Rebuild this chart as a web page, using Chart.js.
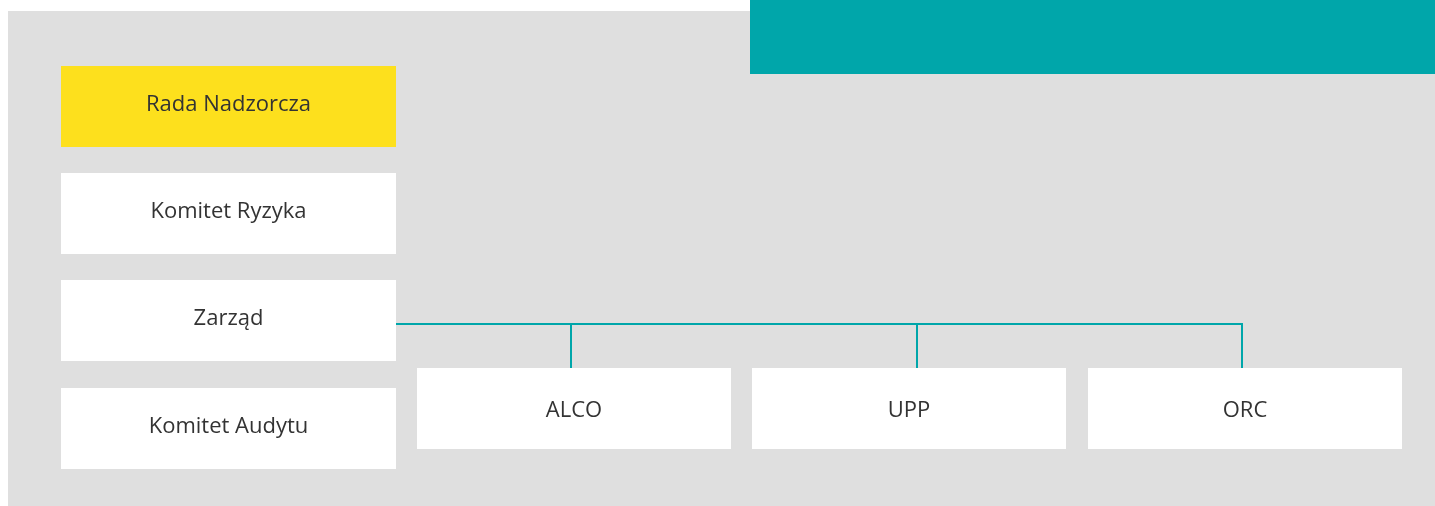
<!DOCTYPE html>
<html>
<head>
<meta charset="utf-8">
<script src="https://cdn.jsdelivr.net/npm/chart.js@4.4.0/dist/chart.umd.min.js"></script>
<style>
  html, body { margin: 0; padding: 0; background: #ffffff; }
  #wrap { width: 1435px; height: 506px; position: relative; }
</style>
</head>
<body>
<div id="wrap"><canvas id="org-chart"></canvas></div>
<script>
// --- data: nodes of the structure ---
var boardNodes = ['Rada Nadzorcza', 'Komitet Ryzyka', 'Zarząd', 'Komitet Audytu'];
var committeeNodes = ['ALCO', 'UPP', 'ORC'];
var committeeParent = 'Zarząd';
var highlightNode = 'Rada Nadzorcza';

// --- layout (page coordinates, y grows downward) ---
var leftColCenter = 228.5, leftColWidth = 335;
var rowTops = [66, 173, 280, 388], rowHeight = 81;
var committeeCenters = [574, 909, 1245], committeeWidth = 314;
var committeeTop = 368, committeeBottom = 449;
var connectorXs = [571, 917, 1242], busY = 324;

var teal = '#00a6aa', yellow = '#fde01d', panelGrey = '#dfdfdf', textColor = '#333333';

var boardBars = boardNodes.map(function (name, i) {
  return { x: leftColCenter, y: [rowTops[i], rowTops[i] + rowHeight] };
});
var committeeBars = committeeNodes.map(function (name, i) {
  return { x: committeeCenters[i], y: [committeeTop, committeeBottom] };
});

// connector: from parent box right edge along the bus, then down to each committee
var connector = [{ x: leftColCenter + leftColWidth / 2, y: busY }, { x: connectorXs[connectorXs.length - 1] + 1, y: busY }];
connectorXs.forEach(function (cx) {
  connector.push({ x: null, y: null });
  connector.push({ x: cx, y: busY });
  connector.push({ x: cx, y: committeeTop });
});

var labelPlugin = {
  id: 'boxLabels',
  afterDatasetsDraw: function (chart) {
    var ctx = chart.ctx;
    ctx.save();
    ctx.fillStyle = textColor;
    ctx.font = '22px "Open Sans", sans-serif';
    ctx.textAlign = 'center';
    ctx.textBaseline = 'middle';
    chart.data.datasets.forEach(function (ds, di) {
      if (!ds.names) return;
      chart.getDatasetMeta(di).data.forEach(function (el, i) {
        ctx.fillText(ds.names[i], el.x, (el.y + el.base) / 2 + ds.labelShift);
      });
    });
    ctx.restore();
  }
};

var ctx = document.getElementById('org-chart');
var chart = new Chart(ctx, {
  type: 'bar',
  data: {
    datasets: [
      {
        label: 'board',
        names: boardNodes,
        labelShift: -2,
        data: boardBars,
        backgroundColor: boardNodes.map(function (n) { return n === highlightNode ? yellow : '#ffffff'; }),
        barThickness: leftColWidth,
        order: 1
      },
      {
        label: 'committees',
        names: committeeNodes,
        labelShift: 2,
        data: committeeBars,
        backgroundColor: '#ffffff',
        barThickness: committeeWidth,
        order: 1
      },
      {
        type: 'line',
        label: 'connector',
        data: connector,
        borderColor: teal,
        borderWidth: 2,
        pointRadius: 0,
        spanGaps: false,
        order: 5
      },
      {
        label: 'header',
        data: [{ x: (750 + 1435) / 2, y: [0, 74] }],
        backgroundColor: teal,
        barThickness: 685,
        order: 9
      },
      {
        label: 'panel',
        data: [{ x: (8 + 1435) / 2, y: [11, 506] }],
        backgroundColor: panelGrey,
        barThickness: 1427,
        order: 10
      }
    ]
  },
  options: {
    responsive: true,
    maintainAspectRatio: false,
    animation: false,
    layout: { padding: 0 },
    datasets: { bar: { grouped: false, inflateAmount: 0, borderWidth: 0 } },
    plugins: { legend: { display: false }, tooltip: { enabled: false } },
    scales: {
      x: { type: 'linear', min: 0, max: 1435, display: false, offset: false },
      y: { type: 'linear', min: 0, max: 506, reverse: true, display: false }
    }
  },
  plugins: [labelPlugin]
});
</script>
</body>
</html>
